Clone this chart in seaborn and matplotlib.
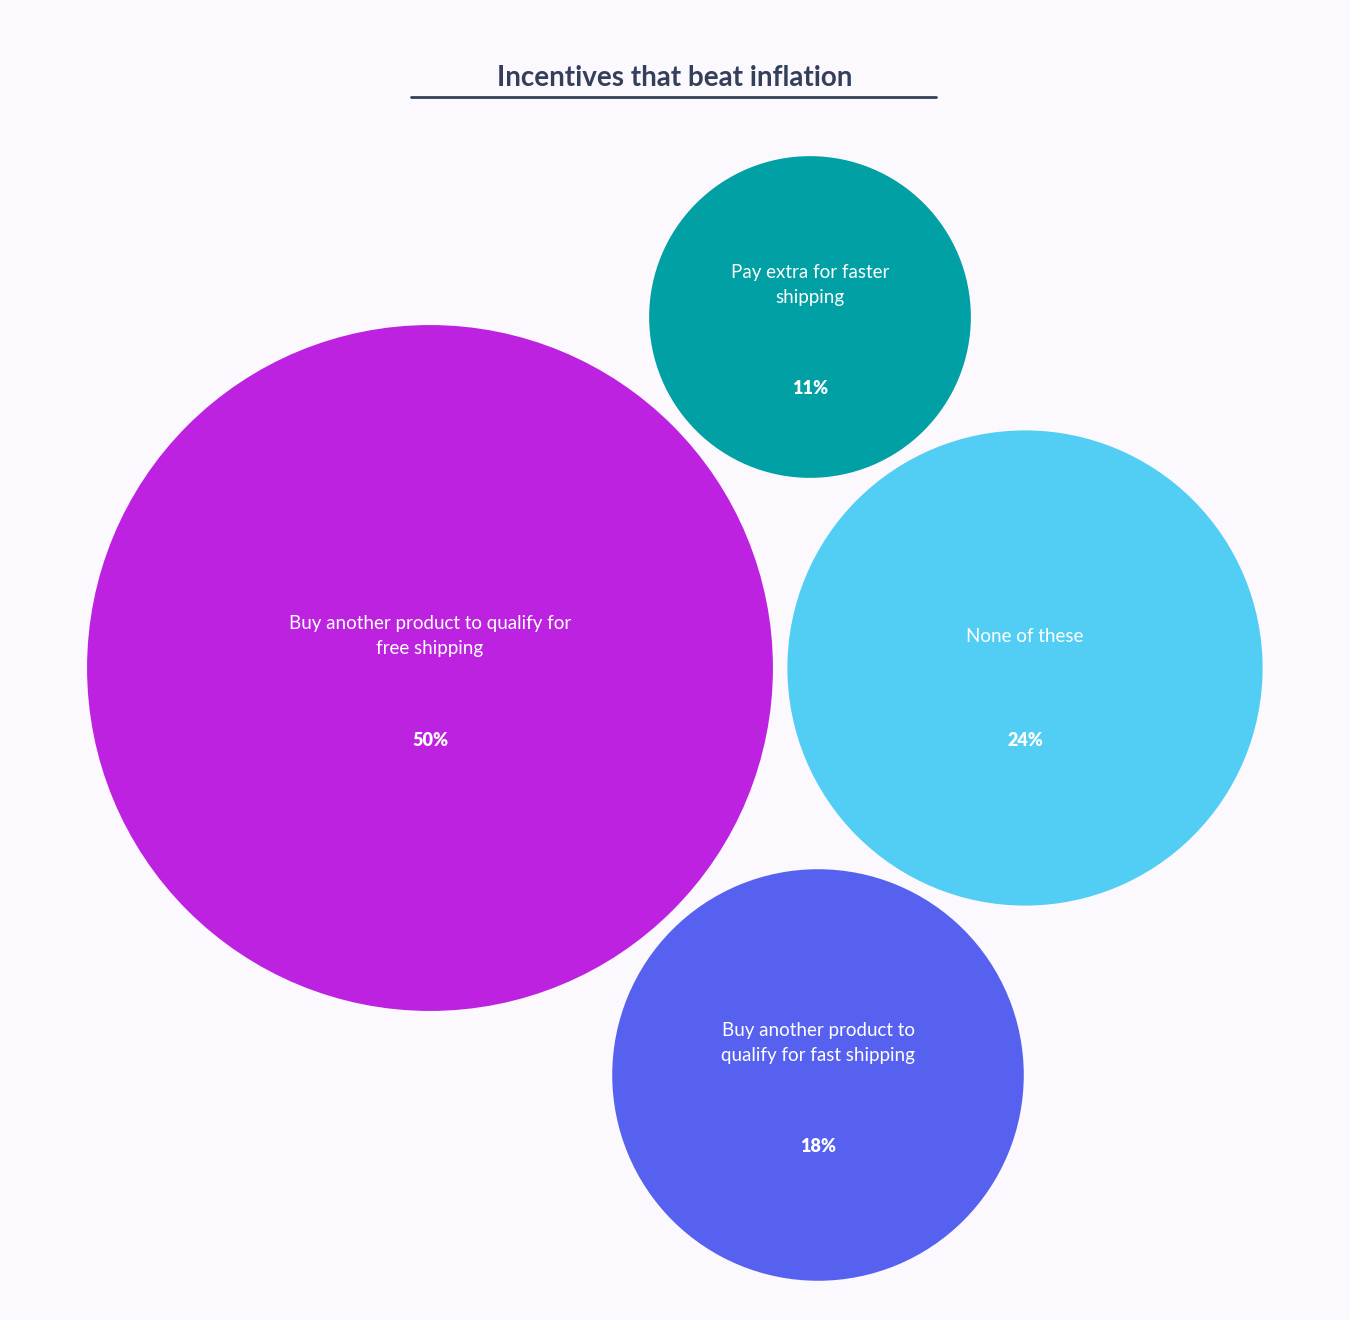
import matplotlib.pyplot as plt
import matplotlib.patches as mpatches
import numpy as np
import seaborn as sns

# data
labels = ["Buy another product to qualify for\nfree shipping",
          "Pay extra for faster\nshipping",
          "None of these",
          "Buy another product to\nqualify for fast shipping"]
values = [50, 11, 24, 18]
colors = ["#BD22E0", "#00A0A4", "#52CEF5", "#5661F0"]

# layout (pixel space of the figure)
centers_x = [430, 810, 1025, 818]
centers_y = [668, 317, 668, 1075]
scale = 48.5  # radius per sqrt(percent)

sns.set_theme(style="white")
plt.rcParams['font.family'] = ['Lato', 'DejaVu Sans']

bg = "#FBF8FE"
fig = plt.figure(figsize=(13.5, 13.2), dpi=100, facecolor=bg)
ax = fig.add_axes([0, 0, 1, 1])
ax.set_facecolor(bg)
ax.set_xlim(0, 1350)
ax.set_ylim(1320, 0)
ax.set_aspect('equal')
ax.axis('off')

for lab, v, c, x, y in zip(labels, values, colors, centers_x, centers_y):
    r = scale * np.sqrt(v)
    ax.add_patch(mpatches.Circle((x, y), r, color=c, lw=0))
    ax.text(x, y - 32, lab, ha='center', va='center', color='white',
            fontsize=13.5, linespacing=1.6)
    ax.text(x, y + 72, f"{v}%", ha='center', va='center', color='white',
            fontsize=13, fontweight='heavy')

ax.text(675, 78, "Incentives that beat inflation", ha='center', va='center',
        color='#34405A', fontsize=20, fontweight='bold')
ax.plot([411, 936], [97, 97], color='#34405A', lw=2)

fig.savefig("out.png", dpi=100, facecolor=bg)
